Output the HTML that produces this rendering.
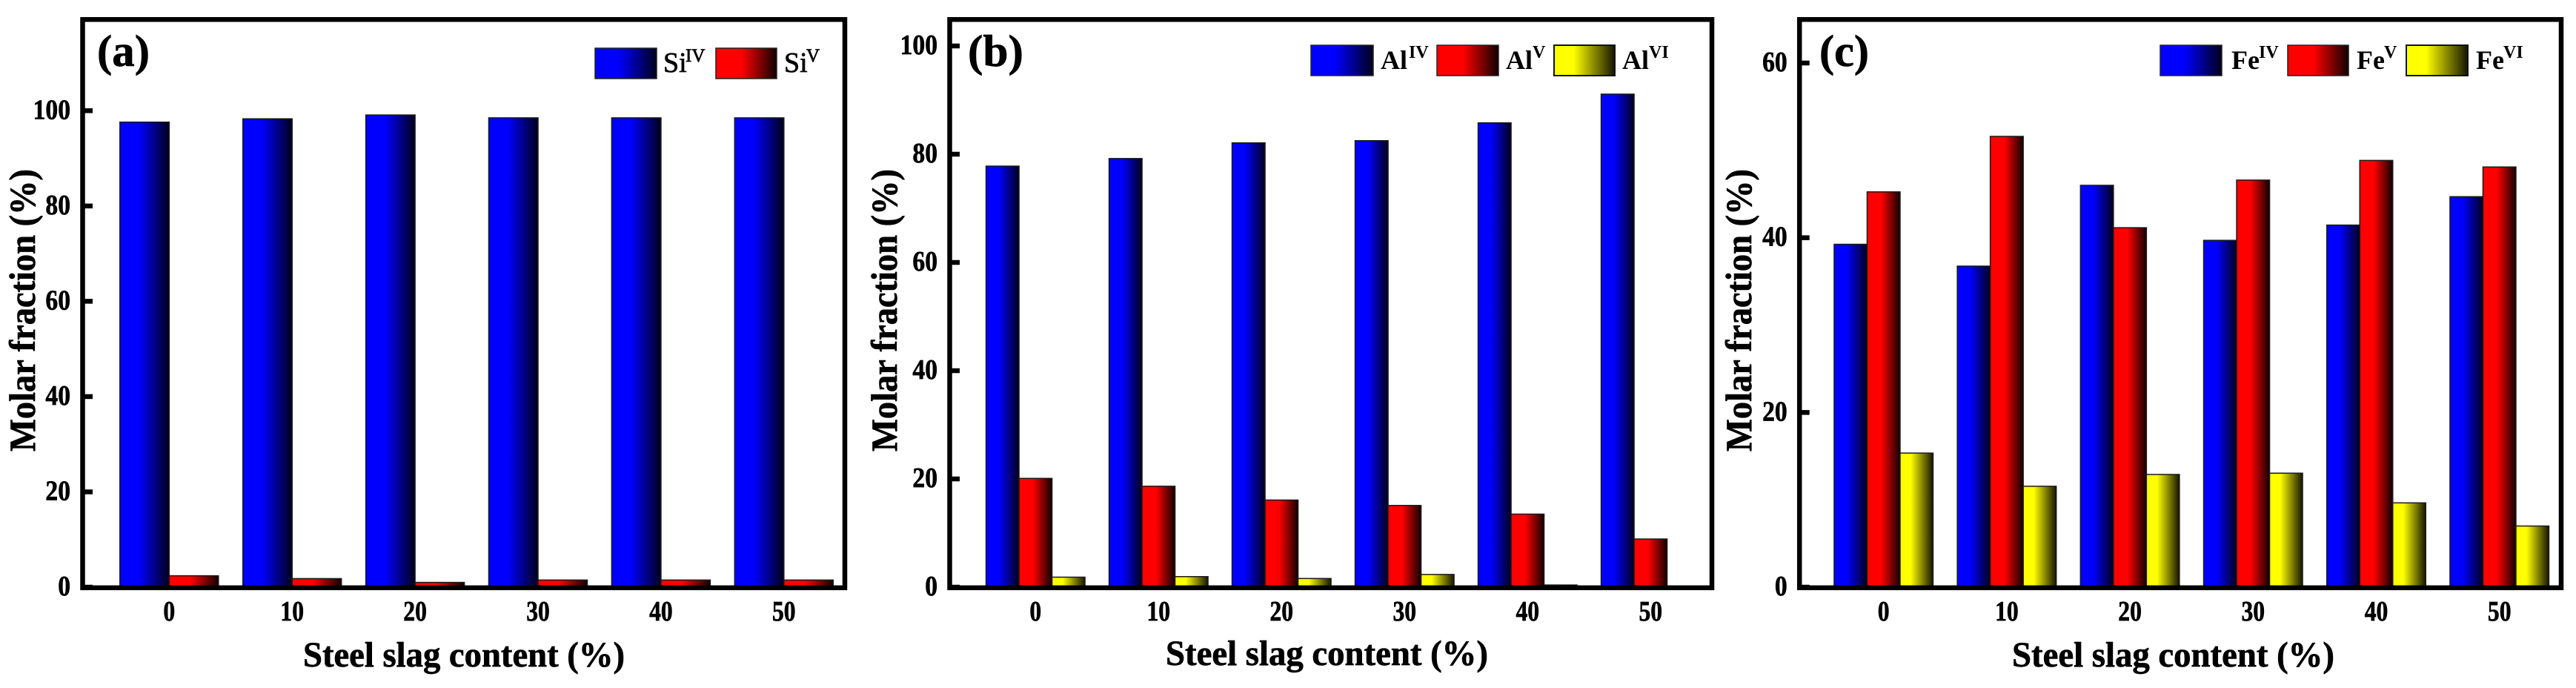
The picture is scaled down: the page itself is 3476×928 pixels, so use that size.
<!DOCTYPE html>
<html lang="en">
<head>
<meta charset="utf-8">
<title>Molar fraction vs steel slag content</title>
<style>
html,body{margin:0;padding:0;background:#fff;}
svg{display:block;}
text{font-family:"Liberation Serif",serif;fill:#000;}
.b{font-weight:bold;}
.heavy{stroke:#000;stroke-width:0.7px;}
</style>
</head>
<body>
<svg id="chart" xmlns="http://www.w3.org/2000/svg" width="3476" height="928" viewBox="0 0 3476 928">
  <defs>
    <linearGradient id="g-blue" x1="0" y1="0" x2="1" y2="0"><stop offset="0" stop-color="#0000ff"/><stop offset="0.38" stop-color="#0000ff"/><stop offset="1" stop-color="#00001c"/></linearGradient>
    <linearGradient id="g-red" x1="0" y1="0" x2="1" y2="0"><stop offset="0" stop-color="#ff0000"/><stop offset="0.42" stop-color="#ff0000"/><stop offset="1" stop-color="#100000"/></linearGradient>
    <linearGradient id="g-yellow" x1="0" y1="0" x2="1" y2="0"><stop offset="0" stop-color="#ffff00"/><stop offset="0.32" stop-color="#ffff00"/><stop offset="1" stop-color="#141400"/></linearGradient>
  </defs>
  <rect x="0" y="0" width="3476" height="928" fill="#fff"/>

  <g id="panel-a"></g>
  <g id="panel-b"></g>
  <g id="panel-c"></g>

  <!-- Panel labels -->
  <text class="b heavy" x="131" y="89" font-size="60" textLength="71" lengthAdjust="spacingAndGlyphs">(a)</text>
  <text class="b heavy" x="1306" y="89" font-size="60" textLength="75" lengthAdjust="spacingAndGlyphs">(b)</text>
  <text class="b heavy" x="2455" y="89" font-size="60" textLength="67" lengthAdjust="spacingAndGlyphs">(c)</text>

  <!-- Axis titles -->
  <text class="b heavy" x="409" y="899" font-size="48" textLength="434" lengthAdjust="spacingAndGlyphs">Steel slag content (%)</text>
  <text class="b heavy" x="1573" y="897" font-size="48" textLength="435" lengthAdjust="spacingAndGlyphs">Steel slag content (%)</text>
  <text class="b heavy" x="2715" y="899" font-size="48" textLength="435" lengthAdjust="spacingAndGlyphs">Steel slag content (%)</text>
  <text class="b heavy" transform="translate(47 609) rotate(-90)" font-size="50" textLength="381" lengthAdjust="spacingAndGlyphs">Molar fraction (%)</text>
  <text class="b heavy" transform="translate(1210 609) rotate(-90)" font-size="50" textLength="381" lengthAdjust="spacingAndGlyphs">Molar fraction (%)</text>
  <text class="b heavy" transform="translate(2363 609) rotate(-90)" font-size="50" textLength="381" lengthAdjust="spacingAndGlyphs">Molar fraction (%)</text>

  <!-- Legend a -->
  <g>
    <rect x="803" y="65" width="83" height="41" fill="url(#g-blue)" stroke="#222" stroke-width="1.5"/>
    <text class="heavy" y="97" font-size="38"><tspan x="895">Si</tspan><tspan x="925" y="83" font-size="25">IV</tspan></text>
    <rect x="966" y="65" width="82" height="41" fill="url(#g-red)" stroke="#222" stroke-width="1.5"/>
    <text class="heavy" y="97" font-size="38"><tspan x="1058">Si</tspan><tspan x="1088" y="83" font-size="25">V</tspan></text>
  </g>
  <!-- Legend b -->
  <g>
    <rect x="1769" y="61" width="84" height="41" fill="url(#g-blue)" stroke="#222" stroke-width="1.5"/>
    <text class="b" y="93" font-size="36"><tspan x="1863">Al</tspan><tspan x="1901" y="78" font-size="24">IV</tspan></text>
    <rect x="1939" y="61" width="83" height="41" fill="url(#g-red)" stroke="#222" stroke-width="1.5"/>
    <text class="b" y="93" font-size="36"><tspan x="2032">Al</tspan><tspan x="2068" y="78" font-size="24">V</tspan></text>
    <rect x="2097" y="61" width="82" height="41" fill="url(#g-yellow)" stroke="#111" stroke-width="2"/>
    <text class="b" y="93" font-size="36"><tspan x="2189">Al</tspan><tspan x="2225" y="78" font-size="24">VI</tspan></text>
  </g>
  <!-- Legend c -->
  <g>
    <rect x="2915" y="61" width="83" height="41" fill="url(#g-blue)" stroke="#222" stroke-width="1.5"/>
    <text class="b" y="93" font-size="36"><tspan x="3011">Fe</tspan><tspan x="3048" y="78" font-size="24">IV</tspan></text>
    <rect x="3087" y="61" width="82" height="41" fill="url(#g-red)" stroke="#222" stroke-width="1.5"/>
    <text class="b" y="93" font-size="36"><tspan x="3180">Fe</tspan><tspan x="3217" y="78" font-size="24">V</tspan></text>
    <rect x="3247" y="61" width="83" height="41" fill="url(#g-yellow)" stroke="#111" stroke-width="2"/>
    <text class="b" y="93" font-size="36"><tspan x="3341">Fe</tspan><tspan x="3378" y="78" font-size="24">VI</tspan></text>
  </g>
</svg>
<script>
const categories = ['0', '10', '20', '30', '40', '50'];

const siIV = [97.6, 98.3, 99.1, 98.5, 98.5, 98.5];
const siV = [2.4, 1.8, 1.0, 1.5, 1.5, 1.5];

const alIV = [77.8, 79.2, 82.1, 82.5, 85.8, 91.1];
const alV = [20.1, 18.65, 16.1, 15.1, 13.5, 8.9];
const alVI = [1.85, 1.95, 1.6, 2.35, 0.4, 0];

const feIV = [39.25, 36.75, 46.0, 39.7, 41.45, 44.7];
const feV = [45.25, 51.6, 41.15, 46.6, 48.85, 48.1];
const feVI = [15.35, 11.55, 12.9, 13.05, 9.65, 7.0];

const yTicksA = [0, 20, 40, 60, 80, 100];
const yTicksB = [0, 20, 40, 60, 80, 100];
const yTicksC = [0, 20, 40, 60];

const SVG_NS = 'http://www.w3.org/2000/svg';

function make(tag, attrs, parent, content) {
  const el = document.createElementNS(SVG_NS, tag);
  for (const k in attrs) el.setAttribute(k, attrs[k]);
  if (content !== undefined) el.textContent = content;
  parent.appendChild(el);
  return el;
}

function drawPanel(cfg) {
  const root = document.getElementById(cfg.id);
  const yScale = v => cfg.y0 - v * (cfg.y0 - cfg.yRefPx) / cfg.yRefVal;
  const xCenter = i => cfg.cx0 + i * cfg.step;
  const n = cfg.series.length;

  cfg.series.forEach((s, si) => {
    s.values.forEach((v, i) => {
      const x = xCenter(i) - n * cfg.barW / 2 + si * cfg.barW;
      const y = yScale(v);
      const bar = make('rect', {
        x: x, y: y, width: cfg.barW, height: Math.max(0, cfg.y0 - y),
        fill: 'url(#' + s.grad + ')', stroke: '#1a1a1a', 'stroke-width': 1.5
      }, root);
      
      
    });
  });

  const frame = make('rect', {
    x: cfg.left, y: 26.3, width: cfg.right - cfg.left, height: 766.5,
    fill: 'none', stroke: '#000', 'stroke-width': 6.5
  }, root);
  
  

  cfg.ticks.forEach(t => {
    const y = yScale(t);
    const tick = make('line', {
      x1: cfg.left, x2: cfg.left + 13.5, y1: y, y2: y, stroke: '#000', 'stroke-width': 6.5
    }, root);
    
    

    const label = String(t);
    const tl = make('text', {
      x: cfg.left - 16.5, y: y + 11, 'font-size': 38, 'font-weight': 'bold', 'text-anchor': 'end',
      textLength: label.length * 16.8, lengthAdjust: 'spacingAndGlyphs', class: 'heavy'
    }, root, label);
    
    
  });

  categories.forEach((c, i) => {
    const tl = make('text', {
      x: xCenter(i), y: 837, 'font-size': 38, 'font-weight': 'bold', 'text-anchor': 'middle',
      textLength: c.length * 15.8, lengthAdjust: 'spacingAndGlyphs', class: 'heavy'
    }, root, c);
    
    
  });
}

drawPanel({
  id: 'panel-a', left: 111.5, right: 1140, y0: 792, yRefVal: 100, yRefPx: 149.3,
  cx0: 228.3, step: 165.9, barW: 66.5, ticks: yTicksA,
  series: [
    { key: 'si-iv', grad: 'g-blue', values: siIV },
    { key: 'si-v', grad: 'g-red', values: siV }
  ]
});
drawPanel({
  id: 'panel-b', left: 1281.5, right: 2310, y0: 792, yRefVal: 100, yRefPx: 62,
  cx0: 1397.3, step: 166, barW: 44.5, ticks: yTicksB,
  series: [
    { key: 'al-iv', grad: 'g-blue', values: alIV },
    { key: 'al-v', grad: 'g-red', values: alV },
    { key: 'al-vi', grad: 'g-yellow', values: alVI }
  ]
});
drawPanel({
  id: 'panel-c', left: 2428.2, right: 3456, y0: 792, yRefVal: 60, yRefPx: 85,
  cx0: 2541.7, step: 166.2, barW: 44.5, ticks: yTicksC,
  series: [
    { key: 'fe-iv', grad: 'g-blue', values: feIV },
    { key: 'fe-v', grad: 'g-red', values: feV },
    { key: 'fe-vi', grad: 'g-yellow', values: feVI }
  ]
});
</script>
</body>
</html>
